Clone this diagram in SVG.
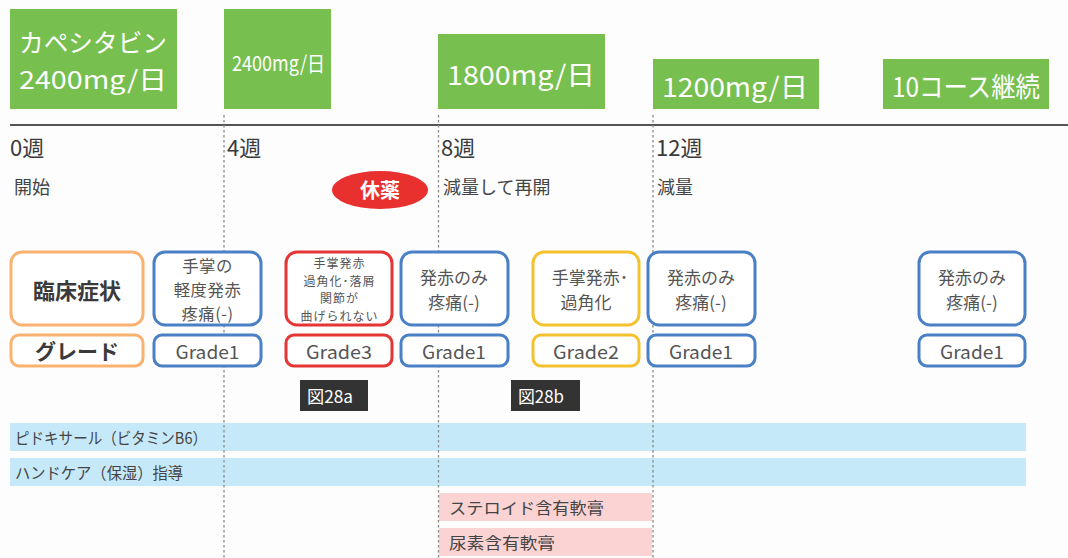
<svg xmlns="http://www.w3.org/2000/svg" width="1068" height="558" viewBox="0 0 1068 558">
<style>
text{font-family:"Noto Sans CJK JP","Noto Sans",sans-serif;fill:#454545;dominant-baseline:central}
.g{fill:#77bf4f}
.gt{fill:#fff;font-size:27px}
.wk{font-size:22px;fill:#3a3a3a}
.sub{font-size:18px;fill:#444}
.box{fill:#fff;stroke-width:3}
.or{stroke:#f9b26f}.bl{stroke:#4a80c6}.rd{stroke:#e63535}.ye{stroke:#f5c22f}
.sy{font-size:17px;text-anchor:middle;fill:#555}
.s1{font-size:16.4px;text-anchor:middle;fill:#555;letter-spacing:0.5px}
.sr{font-size:12px;text-anchor:middle;fill:#555;letter-spacing:1px}
.gr{font-size:18px;text-anchor:middle;fill:#555}
.bar{fill:#c6e9f9}.pk{fill:#fbd3d3}
.bt{font-size:16px;fill:#444}
.dot{stroke:#8a8a8a;stroke-width:1.3;stroke-dasharray:2.5 2.5}
.fig{fill:#333}
.ft{fill:#fff;font-size:17px}
</style>
<rect width="1068" height="558" fill="#fdfdfd"/>
<g id="bars">
<rect class="bar" x="10" y="423" width="1016" height="28"/>
<text class="bt" x="15" y="437" textLength="192" lengthAdjust="spacingAndGlyphs">ピドキサール（ビタミンB6）</text>
<rect class="bar" x="10" y="458" width="1016" height="28"/>
<text class="bt" x="15" y="472" textLength="168" lengthAdjust="spacingAndGlyphs">ハンドケア（保湿）指導</text>
<rect class="pk" x="439" y="493" width="213" height="28"/>
<text class="bt" x="449" y="507" textLength="155" lengthAdjust="spacingAndGlyphs">ステロイド含有軟膏</text>
<rect class="pk" x="439" y="528" width="213" height="28"/>
<text class="bt" x="449" y="542" textLength="106" lengthAdjust="spacingAndGlyphs">尿素含有軟膏</text>
</g>
<g id="connectors">
<line x1="10" y1="125" x2="1068" y2="125" stroke="#555" stroke-width="2"/>
<line class="dot" x1="224" y1="115" x2="224" y2="558"/>
<line class="dot" x1="438.5" y1="115" x2="438.5" y2="558"/>
<line class="dot" x1="653" y1="115" x2="653" y2="558"/>
</g>
<g id="dose0"><rect class="g" x="10" y="9" width="167" height="100"/>
<text class="gt" x="19" y="41" style="font-size:25px" textLength="148" lengthAdjust="spacingAndGlyphs">カペシタビン</text>
<text class="gt" x="19" y="77.5" style="font-size:25px" textLength="148" lengthAdjust="spacingAndGlyphs">2400mg/日</text></g>
<g id="dose4"><rect class="g" x="224" y="9" width="107" height="100"/>
<text class="gt" x="232" y="62" style="font-size:21px" textLength="93" lengthAdjust="spacingAndGlyphs">2400mg/日</text></g>
<g id="dose8"><rect class="g" x="438" y="34" width="167" height="75"/>
<text class="gt" x="447" y="73" textLength="148" lengthAdjust="spacingAndGlyphs">1800mg/日</text></g>
<g id="dose12"><rect class="g" x="653" y="59" width="166" height="50"/>
<text class="gt" x="662" y="85" textLength="146" lengthAdjust="spacingAndGlyphs">1200mg/日</text></g>
<g id="course"><rect class="g" x="883" y="59" width="166" height="50"/>
<text class="gt" x="892" y="85" textLength="148" lengthAdjust="spacingAndGlyphs">10コース継続</text></g>
<g id="w0"><text class="wk" x="10" y="146">0週</text><text class="sub" x="14" y="186">開始</text></g>
<g id="w4"><text class="wk" x="227" y="146">4週</text></g>
<g id="w8"><text class="wk" x="441" y="146">8週</text><text class="sub" x="443" y="186">減量して再開</text></g>
<g id="w12"><text class="wk" x="656" y="146">12週</text><text class="sub" x="657" y="186">減量</text></g>
<g id="kyuyaku"><ellipse cx="380" cy="190" rx="48" ry="19" fill="#e8312f"/>
<text x="380" y="189" font-size="20" font-weight="bold" text-anchor="middle" style="fill:#fff">休薬</text></g>
<g id="label-symptom"><rect class="box or" x="11" y="252" width="132" height="73" rx="11"/>
<text x="77" y="289" font-size="22" font-weight="bold" text-anchor="middle" style="fill:#3a3a3a">臨床症状</text></g>
<g id="label-grade"><rect class="box or" x="11" y="335" width="132" height="31" rx="8"/>
<text x="77" y="350" font-size="21" font-weight="bold" text-anchor="middle" style="fill:#3a3a3a">グレード</text></g>
<g id="s1"><rect class="box bl" x="154" y="252" width="107" height="73" rx="11"/>
<text class="s1" x="207.5" y="264.5">手掌の</text><text class="s1" x="207.5" y="288.5">軽度発赤</text><text class="s1" x="207.5" y="312.5">疼痛(-)</text></g>
<g id="g1"><rect class="box bl" x="154" y="335" width="107" height="31" rx="8"/><text class="gr" x="207.5" y="351" textLength="64" lengthAdjust="spacingAndGlyphs">Grade1</text></g>
<g id="s2"><rect class="box rd" x="286" y="252" width="106" height="73" rx="11"/>
<text class="sr" x="339.5" y="262.5">手掌発赤</text><text class="sr" x="339.5" y="280">過角化･落屑</text><text class="sr" x="339.5" y="297.5">関節が</text><text class="sr" x="339.5" y="315">曲げられない</text></g>
<g id="g2"><rect class="box rd" x="286" y="335" width="106" height="31" rx="8"/><text class="gr" x="339" y="351" textLength="66" lengthAdjust="spacingAndGlyphs">Grade3</text></g>
<g id="s3"><rect class="box bl" x="401" y="252" width="107" height="73" rx="11"/>
<text class="sy" x="454" y="276.5">発赤のみ</text><text class="sy" x="454" y="301.5">疼痛(-)</text></g>
<g id="g3"><rect class="box bl" x="401" y="335" width="107" height="31" rx="8"/><text class="gr" x="454" y="351" textLength="64" lengthAdjust="spacingAndGlyphs">Grade1</text></g>
<g id="s4"><rect class="box ye" x="533" y="252" width="106" height="73" rx="11"/>
<text class="sy" x="590" y="276.5">手掌発赤･</text><text class="sy" x="586" y="301.5">過角化</text></g>
<g id="g4"><rect class="box ye" x="533" y="335" width="106" height="31" rx="8"/><text class="gr" x="586" y="351" textLength="66" lengthAdjust="spacingAndGlyphs">Grade2</text></g>
<g id="s5"><rect class="box bl" x="648" y="252" width="107" height="73" rx="11"/>
<text class="sy" x="701" y="276.5">発赤のみ</text><text class="sy" x="701" y="301.5">疼痛(-)</text></g>
<g id="g5"><rect class="box bl" x="648" y="335" width="107" height="31" rx="8"/><text class="gr" x="701" y="351" textLength="64" lengthAdjust="spacingAndGlyphs">Grade1</text></g>
<g id="s6"><rect class="box bl" x="919" y="252" width="106" height="73" rx="11"/>
<text class="sy" x="972" y="276.5">発赤のみ</text><text class="sy" x="972" y="301.5">疼痛(-)</text></g>
<g id="g6"><rect class="box bl" x="919" y="335" width="106" height="31" rx="8"/><text class="gr" x="972" y="351" textLength="64" lengthAdjust="spacingAndGlyphs">Grade1</text></g>
<g id="fig28a"><rect class="fig" x="300" y="380" width="68" height="31"/><text class="ft" x="307" y="395" textLength="46" lengthAdjust="spacingAndGlyphs">図28a</text></g>
<g id="fig28b"><rect class="fig" x="511" y="380" width="69" height="31"/><text class="ft" x="518" y="395" textLength="46" lengthAdjust="spacingAndGlyphs">図28b</text></g>
</svg>
